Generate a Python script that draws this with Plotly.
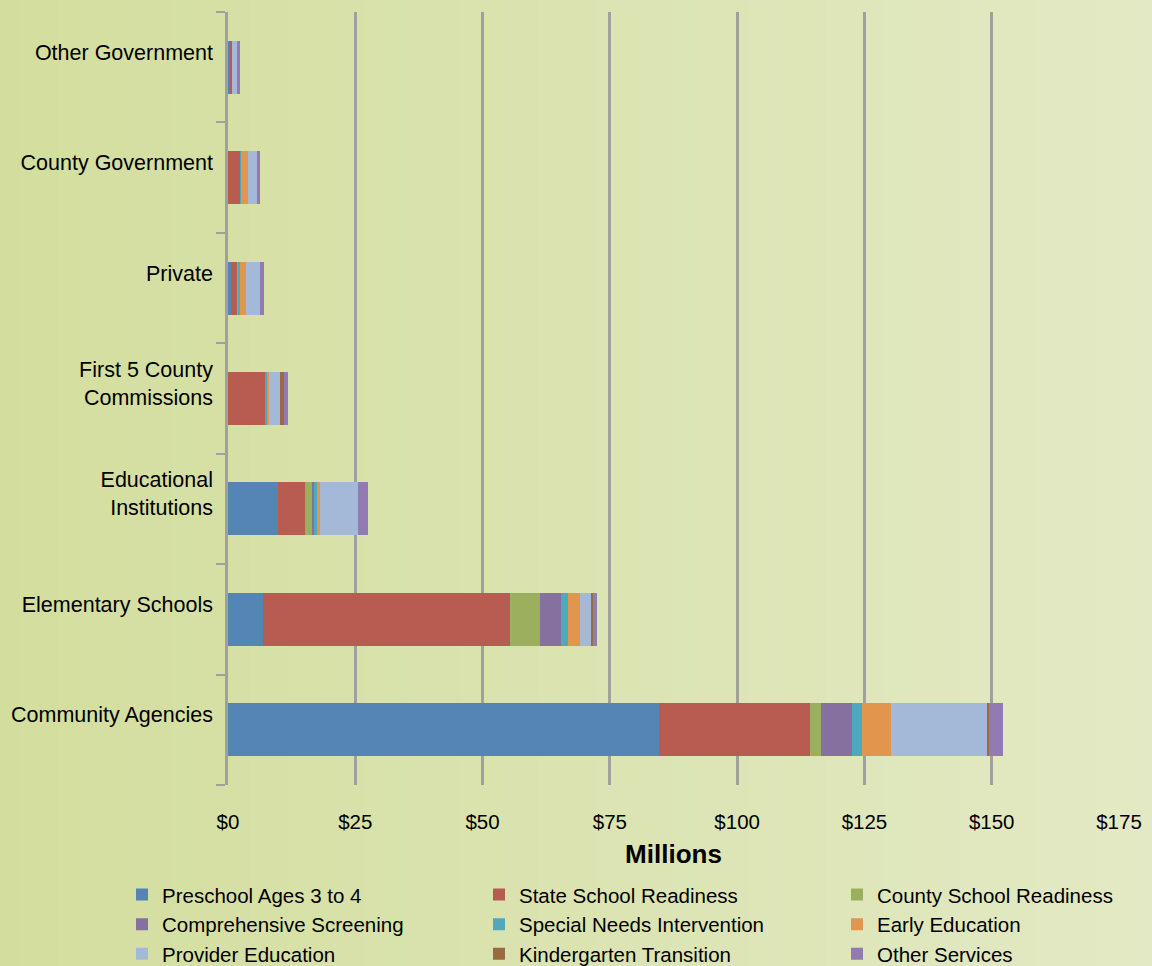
import plotly.graph_objects as go

categories = ["Community Agencies", "Elementary Schools", "Educational<br>Institutions",
              "First 5 County<br>Commissions", "Private", "County Government", "Other Government"]

series_names = ["Preschool Ages 3 to 4", "State School Readiness", "County School Readiness",
                "Comprehensive Screening", "Special Needs Intervention", "Early Education",
                "Provider Education", "Kindergarten Transition", "Other Services"]

preschool = [84.7, 6.9, 9.8, 0.0, 0.6, 0.0, 0.4]
state_sr = [29.6, 48.5, 5.3, 7.3, 1.2, 2.4, 0.4]
county_sr = [2.2, 5.9, 1.4, 0.0, 0.2, 0.0, 0.0]
comp_screen = [6.1, 4.1, 0.4, 0.0, 0.1, 0.0, 0.0]
special_needs = [1.9, 1.4, 0.6, 0.4, 0.3, 0.2, 0.0]
early_ed = [5.7, 2.3, 0.6, 0.4, 1.2, 1.3, 0.0]
provider_ed = [18.9, 2.2, 7.4, 2.1, 2.6, 1.8, 1.0]
kinder = [0.4, 0.4, 0.0, 0.8, 0.0, 0.0, 0.0]
other_services = [2.7, 0.8, 2.0, 0.8, 0.8, 0.6, 0.6]

x_tickvals = [0, 25, 50, 75, 100, 125, 150, 175]
x_ticktext = ["$0", "$25", "$50", "$75", "$100", "$125", "$150", "$175"]

colors = ["#5585b5", "#b85c52", "#9caf5f", "#8570a0", "#50a8bd", "#e2954c",
          "#a4b8d7", "#9a6a40", "#927ab2"]

all_series = [preschool, state_sr, county_sr, comp_screen, special_needs, early_ed,
              provider_ed, kinder, other_services]

legend_ids = ["legend", "legend2", "legend3"]

fig = go.Figure()
for i, (name, vals, col) in enumerate(zip(series_names, all_series, colors)):
    fig.add_trace(go.Bar(y=categories, x=vals, name=name, orientation="h",
                         legend=legend_ids[i % 3],
                         marker=dict(color=col, line=dict(width=0))))

W, H = 1152, 966
ml, mr, mt, mb = 228, 33, 12, 181
pw = W - ml - mr
ph = H - mt - mb

# horizontal gradient background built from strips
def lerp(a, b, t):
    return int(round(a + (b - a) * t))

left_c = (211, 222, 158)
right_c = (227, 233, 196)
n = 60
shapes = []
for i in range(n):
    t = i / (n - 1)
    c = "rgb(%d,%d,%d)" % tuple(lerp(left_c[k], right_c[k], t) for k in range(3))
    x0px = W * i / n
    x1px = W * (i + 1) / n + 1
    shapes.append(dict(type="rect", xref="paper", yref="paper",
                       x0=(x0px - ml) / pw, x1=(x1px - ml) / pw,
                       y0=-mb / ph - 0.01, y1=1 + mt / ph + 0.01,
                       fillcolor=c, line=dict(width=0), layer="below"))

legend_common = dict(orientation="v", xref="container", yref="container",
                     y=0.0945, xanchor="left", yanchor="top",
                     traceorder="normal", font=dict(size=20.5),
                     bgcolor="rgba(0,0,0,0)", tracegroupgap=0, itemwidth=30)

fig.update_layout(
    width=W, height=H,
    margin=dict(l=ml, r=mr, t=mt, b=mb, autoexpand=False),
    barmode="stack", bargap=0.52,
    paper_bgcolor="rgb(219,228,177)", plot_bgcolor="rgba(0,0,0,0)",
    shapes=shapes,
    font=dict(family="Liberation Sans, Arial, sans-serif", color="#000000", size=21),
    xaxis=dict(range=[0, 175], tickvals=x_tickvals, ticktext=x_ticktext,
               showgrid=True, gridcolor="#a0a0a0", gridwidth=2.5,
               zeroline=False, showline=False, ticks="", ticklabelstandoff=22,
               tickfont=dict(size=20.5),
               title=dict(text="<b>Millions</b>", font=dict(size=26), standoff=13)),
    yaxis=dict(showgrid=False, showline=True, linecolor="#a0a0a0", linewidth=2.5,
               ticks="outside", tickson="boundaries", ticklen=9, tickcolor="#a0a0a0",
               tickwidth=2, tickfont=dict(size=21.5), ticklabelstandoff=8,
               ticklabelshift=-15),
    legend=dict(x=122 / W, **legend_common),
    legend2=dict(x=479 / W, **legend_common),
    legend3=dict(x=837 / W, **legend_common),
)

fig.write_html("out.html", config={"displayModeBar": False},
               post_script="document.body.style.margin='0';document.body.style.overflow='hidden';")
